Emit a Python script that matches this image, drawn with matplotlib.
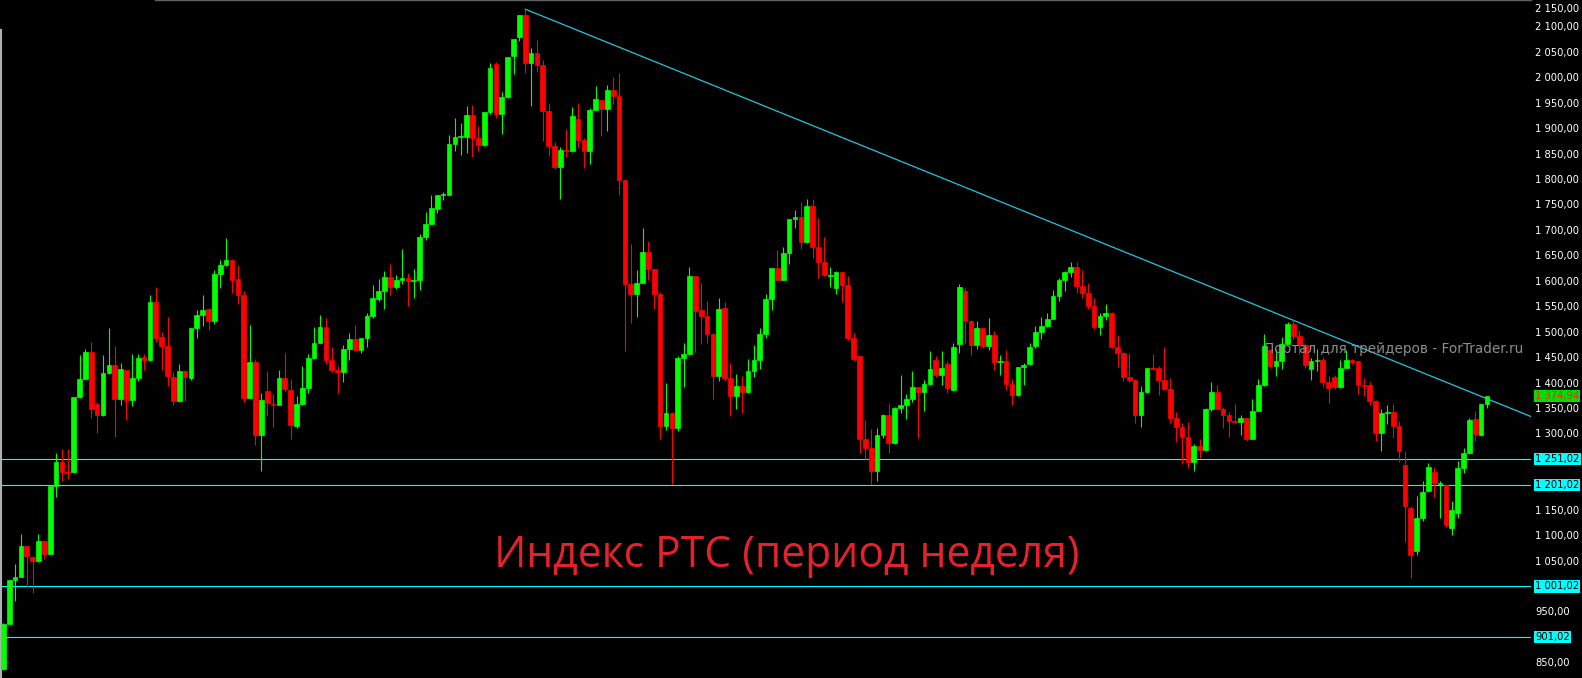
import numpy as np
import matplotlib
matplotlib.use('Agg')
import matplotlib.pyplot as plt
import matplotlib.transforms as mtransforms

# weekly RTS index candles, oldest first
open_ = [839, 927, 1014, 1020, 1080, 1059, 1051, 1090, 1065, 1198,
         1246, 1226, 1226, 1373, 1409, 1462, 1360, 1338, 1421, 1436,
         1370, 1427, 1368, 1411, 1452, 1446, 1560, 1491, 1474, 1413,
         1366, 1425, 1410, 1509, 1535, 1547, 1523, 1615, 1633, 1643,
         1606, 1574, 1372, 1442, 1299, 1385, 1360, 1358, 1411, 1387,
         1317, 1360, 1391, 1450, 1480, 1511, 1446, 1427, 1423, 1468,
         1488, 1466, 1490, 1533, 1566, 1582, 1609, 1589, 1604, 1608,
         1602, 1604, 1688, 1714, 1743, 1771, 1771, 1871, 1885, 1885,
         1928, 1883, 1869, 1934, 2028, 1930, 1963, 2044, 2081, 2125,
         2030, 2050, 2026, 1936, 1867, 1826, 1859, 1857, 1920, 1879,
         1857, 1938, 1957, 1940, 1977, 1965, 1800, 1596, 1576, 1598,
         1659, 1625, 1576, 1317, 1342, 1313, 1450, 1458, 1611, 1545,
         1533, 1497, 1415, 1549, 1411, 1376, 1395, 1383, 1425, 1446,
         1497, 1566, 1627, 1604, 1657, 1723, 1727, 1678, 1749, 1668,
         1639, 1611, 1588, 1619, 1594, 1490, 1454, 1291, 1273, 1228,
         1299, 1338, 1283, 1352, 1358, 1370, 1393, 1383, 1399, 1446,
         1417, 1438, 1387, 1478, 1582, 1523, 1476, 1509, 1474, 1495,
         1442, 1444, 1399, 1377, 1433, 1438, 1474, 1501, 1513, 1527,
         1572, 1604, 1619, 1629, 1592, 1578, 1552, 1511, 1533, 1539,
         1472, 1460, 1413, 1407, 1338, 1383, 1431, 1431, 1407, 1389,
         1332, 1315, 1295, 1246, 1277, 1269, 1350, 1383, 1350, 1338,
         1326, 1324, 1332, 1291, 1346, 1397, 1466, 1435, 1444, 1478,
         1517, 1493, 1476, 1429, 1444, 1446, 1403, 1413, 1393, 1431,
         1446, 1444, 1397, 1397, 1366, 1303, 1342, 1344, 1317, 1240,
         1155, 1071, 1136, 1189, 1226, 1203, 1200, 1116, 1145, 1234,
         1263, 1330, 1299, 1360]
high = [930, 1014, 1045, 1104, 1081, 1061, 1104, 1091, 1198, 1263,
        1271, 1271, 1373, 1456, 1468, 1482, 1364, 1456, 1509, 1474,
        1440, 1427, 1458, 1458, 1458, 1574, 1590, 1501, 1531, 1423,
        1438, 1427, 1509, 1545, 1574, 1548, 1623, 1643, 1686, 1644,
        1633, 1582, 1515, 1448, 1381, 1425, 1379, 1427, 1460, 1409,
        1376, 1435, 1458, 1511, 1535, 1529, 1472, 1435, 1476, 1499,
        1515, 1490, 1539, 1594, 1606, 1621, 1635, 1613, 1665, 1617,
        1625, 1694, 1737, 1771, 1771, 1777, 1889, 1922, 1912, 1946,
        1948, 1906, 1934, 2030, 2032, 1973, 2042, 2077, 2125, 2136,
        2060, 2075, 2036, 1952, 1875, 1865, 1900, 1944, 1952, 1883,
        1942, 1985, 1958, 1987, 2003, 2011, 1801, 1674, 1623, 1706,
        1680, 1626, 1580, 1401, 1343, 1454, 1480, 1629, 1612, 1598,
        1562, 1498, 1568, 1560, 1440, 1419, 1415, 1448, 1476, 1509,
        1576, 1628, 1663, 1668, 1724, 1741, 1757, 1763, 1763, 1725,
        1688, 1629, 1621, 1620, 1611, 1499, 1455, 1328, 1311, 1313,
        1340, 1362, 1354, 1417, 1379, 1425, 1394, 1407, 1464, 1454,
        1464, 1444, 1480, 1596, 1588, 1524, 1523, 1510, 1529, 1503,
        1456, 1466, 1409, 1433, 1440, 1480, 1513, 1531, 1539, 1584,
        1608, 1621, 1639, 1639, 1623, 1598, 1568, 1539, 1556, 1540,
        1495, 1461, 1460, 1408, 1395, 1431, 1458, 1435, 1472, 1411,
        1344, 1322, 1324, 1281, 1291, 1352, 1403, 1397, 1354, 1344,
        1360, 1338, 1333, 1370, 1409, 1497, 1468, 1468, 1492, 1521,
        1525, 1505, 1480, 1450, 1468, 1452, 1415, 1417, 1446, 1466,
        1448, 1445, 1410, 1403, 1367, 1350, 1358, 1360, 1326, 1267,
        1159, 1179, 1208, 1244, 1236, 1208, 1201, 1169, 1248, 1273,
        1332, 1346, 1360, 1376]
low = [837, 927, 972, 1019, 999, 988, 1050, 1055, 1064, 1177,
       1208, 1212, 1225, 1372, 1408, 1332, 1303, 1336, 1419, 1295,
       1358, 1328, 1356, 1405, 1427, 1445, 1482, 1427, 1396, 1358,
       1364, 1366, 1406, 1490, 1513, 1506, 1517, 1588, 1632, 1578,
       1557, 1364, 1371, 1279, 1227, 1337, 1315, 1357, 1384, 1290,
       1313, 1357, 1382, 1449, 1479, 1438, 1423, 1381, 1403, 1446,
       1464, 1460, 1472, 1529, 1562, 1547, 1574, 1586, 1596, 1552,
       1568, 1584, 1682, 1713, 1735, 1761, 1770, 1857, 1849, 1853,
       1845, 1857, 1867, 1930, 1922, 1891, 1962, 2009, 2073, 2011,
       1946, 2013, 1877, 1847, 1822, 1763, 1845, 1856, 1863, 1824,
       1832, 1937, 1887, 1897, 1950, 1771, 1464, 1519, 1531, 1597,
       1604, 1547, 1291, 1309, 1203, 1307, 1393, 1457, 1462, 1478,
       1480, 1370, 1405, 1405, 1336, 1350, 1342, 1382, 1413, 1429,
       1490, 1545, 1603, 1603, 1635, 1706, 1665, 1677, 1647, 1607,
       1611, 1590, 1576, 1560, 1486, 1444, 1263, 1252, 1203, 1208,
       1293, 1263, 1282, 1342, 1330, 1364, 1293, 1346, 1398, 1413,
       1397, 1381, 1386, 1460, 1480, 1456, 1468, 1470, 1466, 1427,
       1417, 1387, 1358, 1376, 1397, 1437, 1470, 1488, 1512, 1526,
       1562, 1582, 1609, 1578, 1568, 1547, 1507, 1495, 1525, 1470,
       1433, 1405, 1403, 1322, 1315, 1382, 1427, 1377, 1388, 1322,
       1285, 1242, 1234, 1228, 1254, 1268, 1346, 1349, 1313, 1295,
       1323, 1299, 1287, 1290, 1345, 1396, 1431, 1415, 1429, 1477,
       1488, 1458, 1431, 1407, 1425, 1393, 1362, 1389, 1392, 1430,
       1438, 1379, 1375, 1358, 1287, 1267, 1320, 1293, 1246, 1088,
       1018, 1063, 1130, 1188, 1177, 1136, 1118, 1102, 1136, 1224,
       1262, 1287, 1297, 1351]
close = [928, 1014, 1020, 1080, 1061, 1051, 1090, 1065, 1198, 1246,
         1226, 1225, 1373, 1409, 1462, 1350, 1338, 1421, 1436, 1370,
         1429, 1368, 1411, 1450, 1446, 1560, 1489, 1474, 1414, 1366,
         1425, 1412, 1509, 1535, 1545, 1522, 1615, 1633, 1643, 1604,
         1574, 1372, 1442, 1299, 1368, 1362, 1358, 1411, 1390, 1318,
         1360, 1391, 1450, 1480, 1511, 1446, 1427, 1423, 1468, 1488,
         1466, 1490, 1533, 1568, 1582, 1609, 1589, 1604, 1608, 1602,
         1604, 1688, 1714, 1745, 1771, 1772, 1871, 1885, 1887, 1928,
         1883, 1869, 1934, 2020, 1930, 1963, 2042, 2077, 2125, 2030,
         2050, 2026, 1936, 1867, 1826, 1859, 1857, 1926, 1879, 1857,
         1938, 1959, 1940, 1977, 1965, 1800, 1596, 1576, 1598, 1659,
         1625, 1576, 1317, 1342, 1313, 1450, 1458, 1611, 1543, 1533,
         1497, 1415, 1547, 1411, 1376, 1395, 1383, 1425, 1446, 1497,
         1566, 1627, 1604, 1657, 1723, 1727, 1678, 1749, 1668, 1639,
         1613, 1613, 1619, 1594, 1490, 1448, 1291, 1273, 1228, 1299,
         1338, 1283, 1352, 1358, 1370, 1393, 1383, 1399, 1429, 1417,
         1431, 1391, 1472, 1590, 1523, 1476, 1509, 1474, 1495, 1442,
         1444, 1399, 1377, 1433, 1436, 1472, 1501, 1513, 1527, 1572,
         1604, 1619, 1629, 1592, 1578, 1552, 1511, 1533, 1539, 1472,
         1460, 1413, 1407, 1338, 1383, 1431, 1429, 1407, 1389, 1332,
         1315, 1295, 1246, 1277, 1269, 1350, 1383, 1350, 1338, 1326,
         1324, 1332, 1291, 1346, 1397, 1474, 1435, 1444, 1478, 1517,
         1493, 1476, 1436, 1444, 1446, 1403, 1391, 1393, 1431, 1446,
         1442, 1397, 1395, 1366, 1303, 1342, 1344, 1317, 1267, 1159,
         1063, 1136, 1187, 1236, 1204, 1204, 1122, 1151, 1234, 1263,
         1328, 1301, 1360, 1375]

# support levels and trend line
levels = [1251.02, 1201.02, 1001.02, 901.02]
level_labels = ['1 251,02', '1 201,02', '1 001,02', '901,02']
trend_x = [89, 260.5]
trend_y = [2136, 1335]
last_price = 1374.94
tick_values = [850, 950, 1050, 1100, 1150, 1300, 1350, 1400, 1450, 1500,
               1550, 1600, 1650, 1700, 1750, 1800, 1850, 1900, 1950, 2000,
               2050, 2100, 2150]


def fmt(v):
    s = f"{v:,.2f}"
    return s.replace(',', ' ').replace('.', ',')


o = np.array(open_, dtype=float)
h = np.array(high, dtype=float)
l = np.array(low, dtype=float)
c = np.array(close, dtype=float)
idx = np.arange(len(c))
up = c >= o
colors = np.where(up, '#00ff00', '#ff0000')

fig = plt.figure(figsize=(15.82, 6.78), dpi=100, facecolor='black')
ax = fig.add_axes([0, 0, 1531 / 1582, 1])
ax.set_facecolor('black')
ax.set_xlim(-0.563, 260.5)
ax.set_ylim(821, 2154)
for s in ax.spines.values():
    s.set_visible(False)
ax.set_xticks([])
ax.set_yticks([])

# levels
for lv in levels:
    ax.axhline(lv, color='#00ffff', lw=0.8, zorder=1)
ax.plot(trend_x, trend_y, color='#1fc6e0', lw=0.9, zorder=1)

# candles
ax.vlines(idx, l, h, colors=colors, lw=0.8, zorder=2)
ax.bar(idx, np.abs(c - o), bottom=np.minimum(o, c), width=0.8,
       color=colors, edgecolor=colors, linewidth=0.5, zorder=3)

# frame lines
ax.plot([0.0008, 0.0008], [0, 1 - 30 / 678], transform=ax.transAxes,
        color='#b0b0b0', lw=1.5, clip_on=False)
ax.plot([155 / 1531, 1], [0.9995, 0.9995], transform=ax.transAxes,
        color='#606060', lw=1, clip_on=False)

# price scale on the right
lab_x = 1535 / 1531
fs = 7.2
trans = mtransforms.blended_transform_factory(ax.transAxes, ax.transData)
for v in tick_values:
    # the top label is pushed down so it stays inside the window
    dy = -7 if v == tick_values[-1] else 0
    ax.annotate(fmt(v), (lab_x, v), xycoords=trans, xytext=(0, dy),
                textcoords='offset pixels', color='white', fontsize=fs,
                ha='left', va='center', annotation_clip=False)
for lv, txt in zip(levels, level_labels):
    ax.text(lab_x, lv, txt, transform=trans, color='black', fontsize=fs,
            ha='left', va='center', clip_on=False,
            bbox=dict(boxstyle='square,pad=0.12', fc='#00ffff', ec='none'))
ax.text(lab_x, last_price, fmt(last_price), transform=trans, color='#ff2020',
        fontsize=fs, ha='left', va='center', clip_on=False,
        bbox=dict(boxstyle='square,pad=0.12', fc='#00e000', ec='none'))

# watermark and caption
fig.text(1264 / 1582, 1 - 349 / 678, 'Портал для трейдеров - ForTrader.ru',
         color='#8c8c8c', fontsize=9.8, ha='left', va='center', zorder=10)
fig.text(787 / 1582, 1 - 556 / 678, 'Индекс РТС (период неделя)',
         color='#e5222b', fontsize=30.7, family='Open Sans',
         ha='center', va='center')

fig.savefig('out.png', dpi=100, facecolor='black')
